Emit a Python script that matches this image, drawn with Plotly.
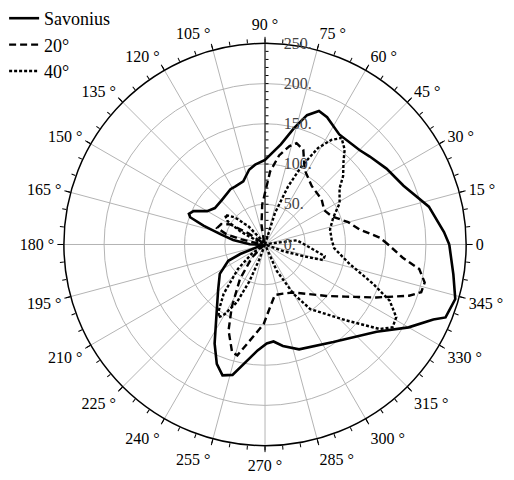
import plotly.graph_objects as go

# ---- data ----
theta_sav = [0, 4, 13, 23, 32, 40, 45, 56, 64, 68, 72, 76, 81, 90, 97, 102, 109, 117, 122, 134, 144,
             150, 155, 158, 160, 163, 167, 172, 179, 190, 201, 204, 213, 224, 235, 243, 248, 252,
             256, 266, 271, 275, 280, 288, 305, 322, 330, 336, 338, 344, 351, 360]
r_sav = [229, 223, 209, 187, 178, 170, 166, 165, 176, 179, 169, 149, 126, 105, 100, 95, 83, 81, 81, 77, 77,
         83, 98, 102, 99, 80, 57, 40, 19, 3, 33, 50, 67, 81, 105, 138, 160, 171,
         167, 132, 123, 121, 128, 137, 148, 176, 206, 229, 242, 246, 237, 229]

theta_20 = [0, 3.4, 9, 15, 23, 30, 38.6, 51.4, 62, 68, 72.7, 76, 78, 81, 86, 88.5, 94, 100, 108,
            140, 146, 150, 155, 161, 165, 168, 175,
            210, 225, 234, 242, 247, 253, 256, 261, 269, 274.5, 281, 290, 300, 310, 320, 327,
            334.5, 340.4, 343, 346.6, 351, 354.5, 360]
r_20 = [153, 143, 119, 107, 90, 85, 90, 93, 105, 127, 132, 126, 120, 112, 91, 72, 50, 25, 5,
        2, 25, 50, 60, 63, 50, 30, 5,
        2, 23, 53, 88, 116, 140, 142, 121, 99, 78.5, 64, 65, 69, 80, 99.5, 119,
        153, 190, 203, 204, 194, 172, 153]

theta_40 = [75, 72.5, 68.3, 65, 61.2, 57.6, 54.3, 50, 46.6, 41.2, 37, 29, 21.4, 13.2, 4.5, 357,
            347, 340, 335.7, 331, 327, 323.6, 317, 305, 300, 294, 290,
            10, 7.5, 356, 349, 345, 343, 340, 338,
            215, 222, 230, 235, 237.5, 240, 244, 247, 249, 252,
            125, 132, 138, 143.5, 148, 152, 156, 160]
r_40 = [0, 41, 78, 107, 137, 154, 163, 154, 142, 129, 116, 106, 91, 83, 83, 86,
        108, 143, 170, 186.5, 189, 177, 138.5, 98, 71, 36, 0,
        8, 40, 56, 75.5, 75, 50, 24, 0,
        20, 45, 80, 100, 107.5, 100, 80, 50, 20, 0,
        5, 30, 50, 62, 55, 35, 10, 0]

series_names = ["Savonius", "20°", "40°"]

ang_major = list(range(0, 360, 15))
ang_text = ["0" if a == 0 else f"{a} °" for a in ang_major]
ang_minor = list(range(0, 360, 5))
rad_ticks = list(range(0, 251, 10))
rad_text = ["\u00a0\u00a0\u00a0" + f"{v}." if v % 50 == 0 else "" for v in rad_ticks]

FONT = "Liberation Serif, Times New Roman, serif"

fig = go.Figure()
fig.add_trace(go.Scatterpolar(theta=theta_sav, r=r_sav, mode="lines", name=series_names[0],
                              line=dict(color="black", width=2.6), subplot="polar"))
fig.add_trace(go.Scatterpolar(theta=theta_20, r=r_20, mode="lines", name=series_names[1],
                              line=dict(color="black", width=2.4, dash="7px,4px"), subplot="polar"))
fig.add_trace(go.Scatterpolar(theta=theta_40, r=r_40, mode="lines", name=series_names[2],
                              line=dict(color="black", width=2.4, dash="3px,2px"), subplot="polar"))
fig.add_trace(go.Scatterpolar(theta=[0], r=[None], mode="lines", showlegend=False,
                              hoverinfo="skip", subplot="polar2"))

dom_x = [0.1226, 0.9086]
dom_y = [0.0719, 0.9135]

fig.update_layout(
    width=514, height=480,
    margin=dict(l=0, r=0, t=0, b=0),
    paper_bgcolor="white",
    font=dict(family=FONT, size=16, color="black"),
    showlegend=True,
    legend=dict(x=0.008, y=1.005, xanchor="left", yanchor="top", font=dict(size=18, family=FONT),
                bgcolor="rgba(0,0,0,0)", tracegroupgap=0, itemwidth=30),
    polar=dict(
        domain=dict(x=dom_x, y=dom_y),
        bgcolor="white",
        angularaxis=dict(rotation=0, direction="counterclockwise", tickmode="array",
                         tickvals=ang_major, ticktext=ang_text, showgrid=True,
                         gridcolor="#b4b4b4", gridwidth=1, showline=False,
                         ticks="outside", ticklen=6, tickcolor="black",
                         tickfont=dict(size=16, family=FONT)),
        radialaxis=dict(range=[0, 250], tickmode="array", tickvals=[50, 100, 150, 200, 250],
                        showticklabels=False, showgrid=True, gridcolor="#b4b4b4", gridwidth=1,
                        showline=False, ticks=""),
    ),
    polar2=dict(
        domain=dict(x=dom_x, y=dom_y),
        bgcolor="rgba(0,0,0,0)",
        angularaxis=dict(rotation=0, direction="counterclockwise", tickmode="array",
                         tickvals=ang_minor, showticklabels=False, showgrid=False,
                         showline=True, linecolor="black", linewidth=1.5,
                         ticks="outside", ticklen=4, tickcolor="black"),
        radialaxis=dict(range=[0, 250], angle=90, tickmode="array", tickvals=rad_ticks,
                        ticktext=rad_text, showgrid=False, showline=True, linecolor="black",
                        linewidth=1, ticks="outside", ticklen=3, tickcolor="black",
                        tickangle=90, tickfont=dict(size=16, family=FONT, color="#444")),
    ),
)

fig.write_html("out.html", config={"displayModeBar": False},
               post_script="document.body.style.margin='0px';")
